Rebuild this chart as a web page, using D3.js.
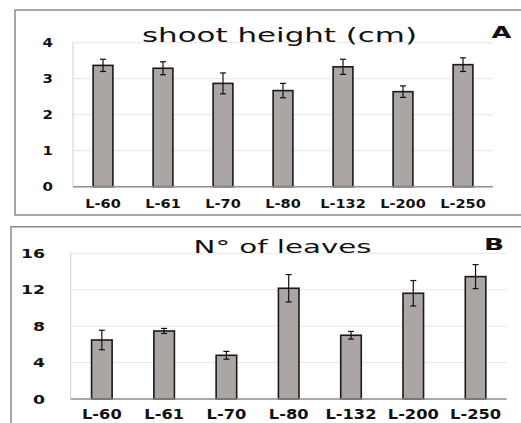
<!DOCTYPE html>
<html>
<head>
<meta charset="utf-8">
<script src="https://cdn.jsdelivr.net/npm/d3@7"></script>
<style>
  body { margin: 0; background: #fff; }
  svg { display: block; }
</style>
</head>
<body>
<svg id="svg" width="521" height="423"></svg>
<script>
const lines = ["L-60", "L-61", "L-70", "L-80", "L-132", "L-200", "L-250"];

const shootHeight = [3.37, 3.29, 2.87, 2.67, 3.33, 2.64, 3.39];
const shootErr = [0.17, 0.18, 0.29, 0.20, 0.21, 0.16, 0.19];
const shootTicks = [0, 1, 2, 3, 4];

const leaves = [6.48, 7.47, 4.80, 12.16, 7.00, 11.61, 13.44];
const leavesErr = [1.07, 0.28, 0.43, 1.50, 0.42, 1.40, 1.32];
const leavesTicks = [0, 4, 8, 12, 16];

const svg = d3.select("#svg");
const font = "'DejaVu Sans', Verdana, sans-serif";

// text with a horizontal stretch (the source picture is widened)
function label(g, x, y, txt, size, weight, anchor, sx) {
  return g.append("text")
    .attr("transform", `translate(${x},${y}) scale(${sx},1)`)
    .attr("text-anchor", anchor)
    .style("font-family", font)
    .style("font-size", size + "px")
    .style("font-weight", weight)
    .attr("fill", "#111")
    .text(txt);
}

function panel(cfg) {
  const g = svg.append("g");

  // frame of the panel (runs off the right edge)
  g.append("path")
    .attr("d", cfg.frame)
    .attr("fill", "none")
    .attr("stroke", "#8a8a8a")
    .attr("stroke-width", 1.5);

  const x = d3.scaleBand()
    .domain(lines)
    .range([cfg.left, cfg.right])
    .paddingInner(0.67)
    .paddingOuter(0.335);

  const y = d3.scaleLinear()
    .domain([0, d3.max(cfg.ticks)])
    .range([cfg.bottom, cfg.top]);

  // grid
  g.selectAll(".grid")
    .data(cfg.ticks.filter(t => t > 0))
    .join("line")
    .attr("x1", cfg.left)
    .attr("x2", cfg.right)
    .attr("y1", d => y(d))
    .attr("y2", d => y(d))
    .attr("stroke", "#e6e6e6")
    .attr("stroke-width", 1);

  // left axis line
  g.append("line")
    .attr("x1", cfg.left).attr("x2", cfg.left)
    .attr("y1", y(d3.max(cfg.ticks))).attr("y2", cfg.bottom)
    .attr("stroke", "#cfcfcf");

  // y tick labels
  cfg.ticks.forEach(t => {
    label(g, cfg.yLabelX, y(t) + cfg.yFont * 0.36, t, cfg.yFont, "bold", "end", cfg.ySx);
  });

  // bars
  g.selectAll(".bar")
    .data(cfg.values)
    .join("rect")
    .attr("x", (d, i) => x(lines[i]))
    .attr("width", x.bandwidth())
    .attr("y", d => y(d))
    .attr("height", d => cfg.bottom - y(d))
    .attr("fill", "#aba6a4")
    .attr("stroke", "#1a1a1a")
    .attr("stroke-width", 1.6);

  // error bars
  const eb = g.selectAll(".err")
    .data(cfg.values)
    .join("g")
    .attr("transform", (d, i) => `translate(${x(lines[i]) + x.bandwidth() / 2},0)`);
  eb.append("line")
    .attr("y1", (d, i) => y(d + cfg.err[i]))
    .attr("y2", (d, i) => y(d - cfg.err[i]))
    .attr("stroke", "#111").attr("stroke-width", 1.2);
  [1, -1].forEach(s => {
    eb.append("line")
      .attr("x1", -3).attr("x2", 3)
      .attr("y1", (d, i) => y(d + s * cfg.err[i]))
      .attr("y2", (d, i) => y(d + s * cfg.err[i]))
      .attr("stroke", "#111").attr("stroke-width", 1.2);
  });

  // x axis line
  g.append("line")
    .attr("x1", cfg.left).attr("x2", cfg.right)
    .attr("y1", cfg.bottom).attr("y2", cfg.bottom)
    .attr("stroke", "#8c8c8c").attr("stroke-width", 1.5);

  // category labels
  lines.forEach(c => {
    label(g, x(c) + x.bandwidth() / 2, cfg.xLabelY, c, cfg.xFont, "bold", "middle", cfg.xSx);
  });

  // title and panel letter
  g.append("text")
    .attr("x", cfg.titleX)
    .attr("y", cfg.titleY)
    .attr("textLength", cfg.titleLen)
    .attr("lengthAdjust", "spacingAndGlyphs")
    .style("font-family", font)
    .style("font-size", cfg.titleFont + "px")
    .attr("fill", "#111")
    .text(cfg.title);

  label(g, cfg.letterX, cfg.letterY, cfg.letter, cfg.letterFont, "bold", "start", 1.6);
}

panel({
  frame: "M521,10 H15 V215 H521",
  left: 73, right: 493, top: 42.7, bottom: 186.7,
  values: shootHeight, err: shootErr, ticks: shootTicks,
  yLabelX: 53, yFont: 12, ySx: 1.25,
  xLabelY: 208.3, xFont: 12.3, xSx: 1.18,
  title: "shoot height (cm)", titleX: 142, titleY: 41.5, titleLen: 275, titleFont: 19.5,
  letter: "A", letterX: 491.5, letterY: 38.3, letterFont: 16
});

panel({
  frame: "M521,226.7 H11 V430",
  left: 70.7, right: 506.7, top: 253.3, bottom: 399,
  values: leaves, err: leavesErr, ticks: leavesTicks,
  yLabelX: 45, yFont: 12.5, ySx: 1.38,
  xLabelY: 419, xFont: 14, xSx: 1.16,
  title: "N° of leaves", titleX: 193.5, titleY: 253, titleLen: 178, titleFont: 18.5,
  letter: "B", letterX: 484, letterY: 250, letterFont: 16.5
});
</script>
</body>
</html>
